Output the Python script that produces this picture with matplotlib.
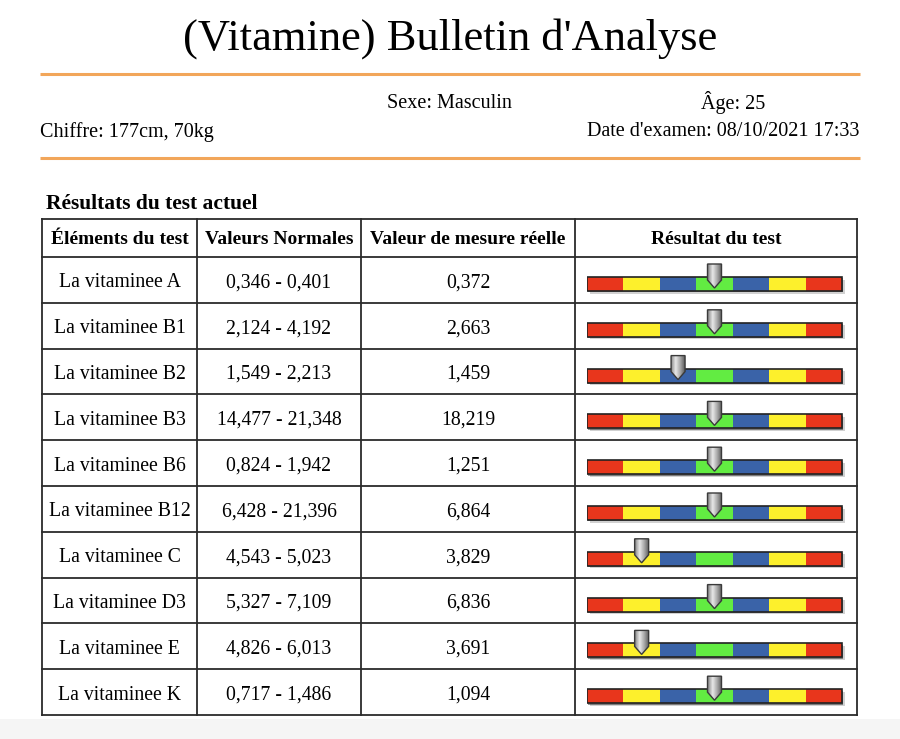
import matplotlib
matplotlib.use("Agg")
import matplotlib.pyplot as plt
import numpy as np
from matplotlib.patches import Rectangle, Polygon
from matplotlib.colors import LinearSegmentedColormap

# ---------------- data ----------------
title = "(Vitamine) Bulletin d'Analyse"
sexe = "Sexe: Masculin"
age = "Âge: 25"
chiffre = "Chiffre: 177cm, 70kg"
date = "Date d'examen: 08/10/2021 17:33"
section = "Résultats du test actuel"
headers = ["Éléments du test", "Valeurs Normales", "Valeur de mesure réelle", "Résultat du test"]
elements = ["La vitaminee A", "La vitaminee B1", "La vitaminee B2", "La vitaminee B3",
            "La vitaminee B6", "La vitaminee B12", "La vitaminee C", "La vitaminee D3",
            "La vitaminee E", "La vitaminee K"]
normal_ranges = ["0,346 - 0,401", "2,124 - 4,192", "1,549 - 2,213", "14,477 - 21,348",
                 "0,824 - 1,942", "6,428 - 21,396", "4,543 - 5,023", "5,327 - 7,109",
                 "4,826 - 6,013", "0,717 - 1,486"]
measured = ["0,372", "2,663", "1,459", "18,219", "1,251", "6,864", "3,829", "6,836",
            "3,691", "1,094"]
# gauge segment index (0..6) where the pointer sits
levels = [3, 3, 2, 3, 3, 3, 1, 3, 1, 3]
segment_colors = ["#E8361C", "#FDF02C", "#3A63A8", "#62EC42", "#3A63A8", "#FDF02C", "#E8361C"]

# ---------------- layout ----------------
W, H = 900, 739
fig = plt.figure(figsize=(W / 100, H / 100), dpi=100)
ax = fig.add_axes([0, 0, 1, 1])
ax.set_xlim(0, W)
ax.set_ylim(H, 0)
ax.axis("off")

serif = "Liberation Serif"
orange = "#F2A65A"

ax.text(450, 49.5, title, ha="center", va="baseline", fontsize=32, family=serif)
ax.plot([40, 860], [73.5, 73.5], color=orange, lw=2.2, solid_capstyle="butt")
ax.plot([40, 860], [157.5, 157.5], color=orange, lw=2.2, solid_capstyle="butt")
ax.text(449, 108.5, sexe, ha="center", va="baseline", fontsize=14.5, family=serif)
ax.text(733, 108.5, age, ha="center", va="baseline", fontsize=14.5, family=serif)
ax.text(40, 136.5, chiffre, ha="left", va="baseline", fontsize=14.5, family=serif)
ax.text(859, 136.5, date, ha="right", va="baseline", fontsize=14.5, family=serif)
ax.text(46, 209, section, ha="left", va="baseline", fontsize=15.5, family=serif,
        fontweight="bold")

# bottom gray band
ax.add_patch(Rectangle((0, 719), W, H - 719, color="#F5F5F5", lw=0, zorder=0))

col_x = [42, 197, 361, 575, 857]
header_top, header_bot = 219, 257
n = len(elements)
row_h = (715 - header_bot) / n
row_y = [header_bot + i * row_h for i in range(n + 1)]

line_col = "#2b2b2b"
for yy in [header_top] + row_y:
    ax.plot([col_x[0], col_x[-1]], [yy, yy], color=line_col, lw=1.3, solid_capstyle="projecting")
for xx in col_x:
    ax.plot([xx, xx], [header_top, row_y[-1]], color=line_col, lw=1.3, solid_capstyle="projecting")

centers = [(col_x[i] + col_x[i + 1]) / 2 for i in range(4)]
for c, h in zip(centers, headers):
    ax.text(c, 244.5, h, ha="center", va="baseline",
            fontsize=14, family=serif, fontweight="bold")

for i in range(n):
    by = (row_y[i] + row_y[i + 1]) / 2 + 7.5
    ax.text(centers[0], by, elements[i], ha="center", va="baseline", fontsize=14.2, family=serif)
    ax.text(centers[1], by, normal_ranges[i], ha="center", va="baseline", fontsize=14.2, family=serif)
    ax.text(centers[2], by, measured[i], ha="center", va="baseline", fontsize=14.2, family=serif)

# ---------------- gauges ----------------
gx0, gx1 = 587, 846  # includes a few px of shadow on the right
seg_w_px = (842 - 587) / 7
grad = np.linspace(0, 1, 50)[None, :]
cmap = LinearSegmentedColormap.from_list("g", ["#8a8a8a", "#e8e8e8", "#a8a8a8", "#5e5e5e"])
for i in range(n):
    top = row_y[i] + 5
    bot = top + 33
    gax = fig.add_axes([gx0 / W, 1 - bot / H, (gx1 - gx0) / W, (bot - top) / H])
    xmax = 7 * (gx1 - gx0) / (842 - 587)
    gax.axis("off")
    # shadow
    gax.add_patch(Rectangle((0.08, 17.5), 7, 14, color="#000000", alpha=0.18, lw=0))
    gax.add_patch(Rectangle((0.04, 16.3), 7, 14, color="#000000", alpha=0.4, lw=0))
    # segments
    gax.barh([22] * 7, [1] * 7, left=np.arange(7), height=14, color=segment_colors,
             edgecolor="none")
    gax.add_patch(Rectangle((0, 15), 7, 14, fill=False, edgecolor="#222222", lw=1.2))
    # pointer
    lv = levels[i] + 0.5
    hw = 7 / seg_w_px
    verts = [(lv - hw, 2), (lv + hw, 2), (lv + hw, 18), (lv, 26), (lv - hw, 18)]
    poly = Polygon(verts, closed=True, facecolor="none", edgecolor="#3a3a3a", lw=1.0, zorder=5)
    gax.add_patch(poly)
    im = gax.imshow(grad, cmap=cmap, extent=(lv - hw, lv + hw, 26, 2), aspect="auto", zorder=4)
    im.set_clip_path(poly)
    gax.set_xlim(0, xmax)
    gax.set_ylim(33, 0)

fig.savefig("out.png", dpi=100)
